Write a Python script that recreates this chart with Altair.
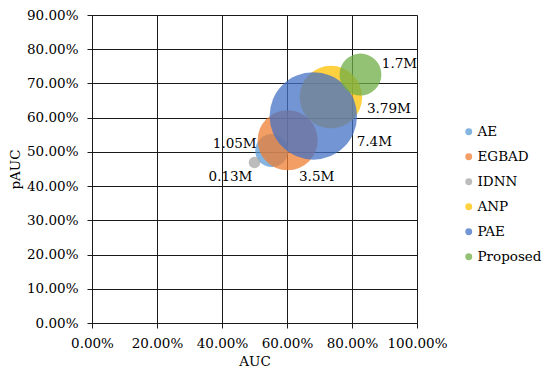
import altair as alt
import pandas as pd

series = ["AE", "EGBAD", "IDNN", "ANP", "PAE", "Proposed"]
auc = [0.553, 0.602, 0.50, 0.735, 0.681, 0.826]
pauc = [0.504, 0.534, 0.469, 0.660, 0.605, 0.726]
params = [1.05, 3.5, 0.13, 3.79, 7.4, 1.7]
labels = ["1.05M", "3.5M", "0.13M", "3.79M", "7.4M", "1.7M"]
colors = ["#5B9BD5", "#ED7D31", "#A5A5A5", "#FFC000", "#4472C4", "#70AD47"]

df = pd.DataFrame({"series": series, "AUC": auc, "pAUC": pauc,
                   "params": params, "label": labels, "order": list(range(len(series)))})

FONT = "DejaVu Serif"
FS = 13.5

x = alt.X("AUC:Q", title="AUC",
          scale=alt.Scale(domain=[0, 1], nice=False),
          axis=alt.Axis(format=".2%", values=[0, 0.2, 0.4, 0.6, 0.8, 1.0],
                        labelOverlap=False, labelFlush=False,
                        grid=True, gridColor="#1a1a1a", gridOpacity=1,
                        domainColor="#1a1a1a", tickColor="#1a1a1a", tickSize=5,
                        labelFont=FONT, labelFontSize=FS, labelColor="#000000",
                        labelPadding=8,
                        titleFont=FONT, titleFontSize=FS, titleFontWeight="normal",
                        titleColor="#000000", titlePadding=5))
y = alt.Y("pAUC:Q", title="pAUC",
          scale=alt.Scale(domain=[0, 0.9], nice=False),
          axis=alt.Axis(format=".2%", values=[0, 0.1, 0.2, 0.3, 0.4, 0.5, 0.6, 0.7, 0.8, 0.9],
                        labelOverlap=False, labelFlush=False,
                        grid=True, gridColor="#1a1a1a", gridOpacity=1,
                        domainColor="#1a1a1a", tickColor="#1a1a1a", tickSize=5,
                        labelFont=FONT, labelFontSize=FS, labelColor="#000000",
                        labelPadding=9,
                        titleFont=FONT, titleFontSize=FS, titleFontWeight="normal",
                        titleColor="#000000", titlePadding=4))

bubbles = alt.Chart(df).mark_circle(opacity=0.75).encode(
    x=x, y=y,
    size=alt.Size("params:Q", scale=alt.Scale(domain=[0, 7.4], range=[0, 7640]), legend=None),
    color=alt.Color("series:N", sort=series,
                    scale=alt.Scale(domain=series, range=colors),
                    legend=alt.Legend(title=None, orient="none", legendX=370, legendY=110,
                                      symbolType="circle", symbolSize=48, symbolOpacity=0.75,
                                      labelFont=FONT, labelFontSize=FS, labelColor="#000000",
                                      rowPadding=10, labelOffset=2)),
    order=alt.Order("order:Q"),
)

offsets = {
    "1.05M": (-37, -7),
    "3.5M": (29, 37),
    "0.13M": (-24, 15),
    "3.79M": (58, 12),
    "7.4M": (61, 26),
    "1.7M": (39, -11),
}
texts = []
for lab, (dx, dy) in offsets.items():
    texts.append(
        alt.Chart(df).transform_filter(alt.datum.label == lab).mark_text(
            font=FONT, fontSize=FS, color="#000000", dx=dx, dy=dy
        ).encode(x=x, y=y, text="label:N")
    )

chart = alt.layer(bubbles, *texts).properties(
    width=325, height=308,
    autosize=alt.AutoSizeParams(type="none"),
    padding={"left": 84, "top": 7, "right": 125, "bottom": 47},
).configure_view(stroke=None).configure(background="#ffffff")

chart.save("out.html", embed_options={"renderer": "svg", "actions": False})
